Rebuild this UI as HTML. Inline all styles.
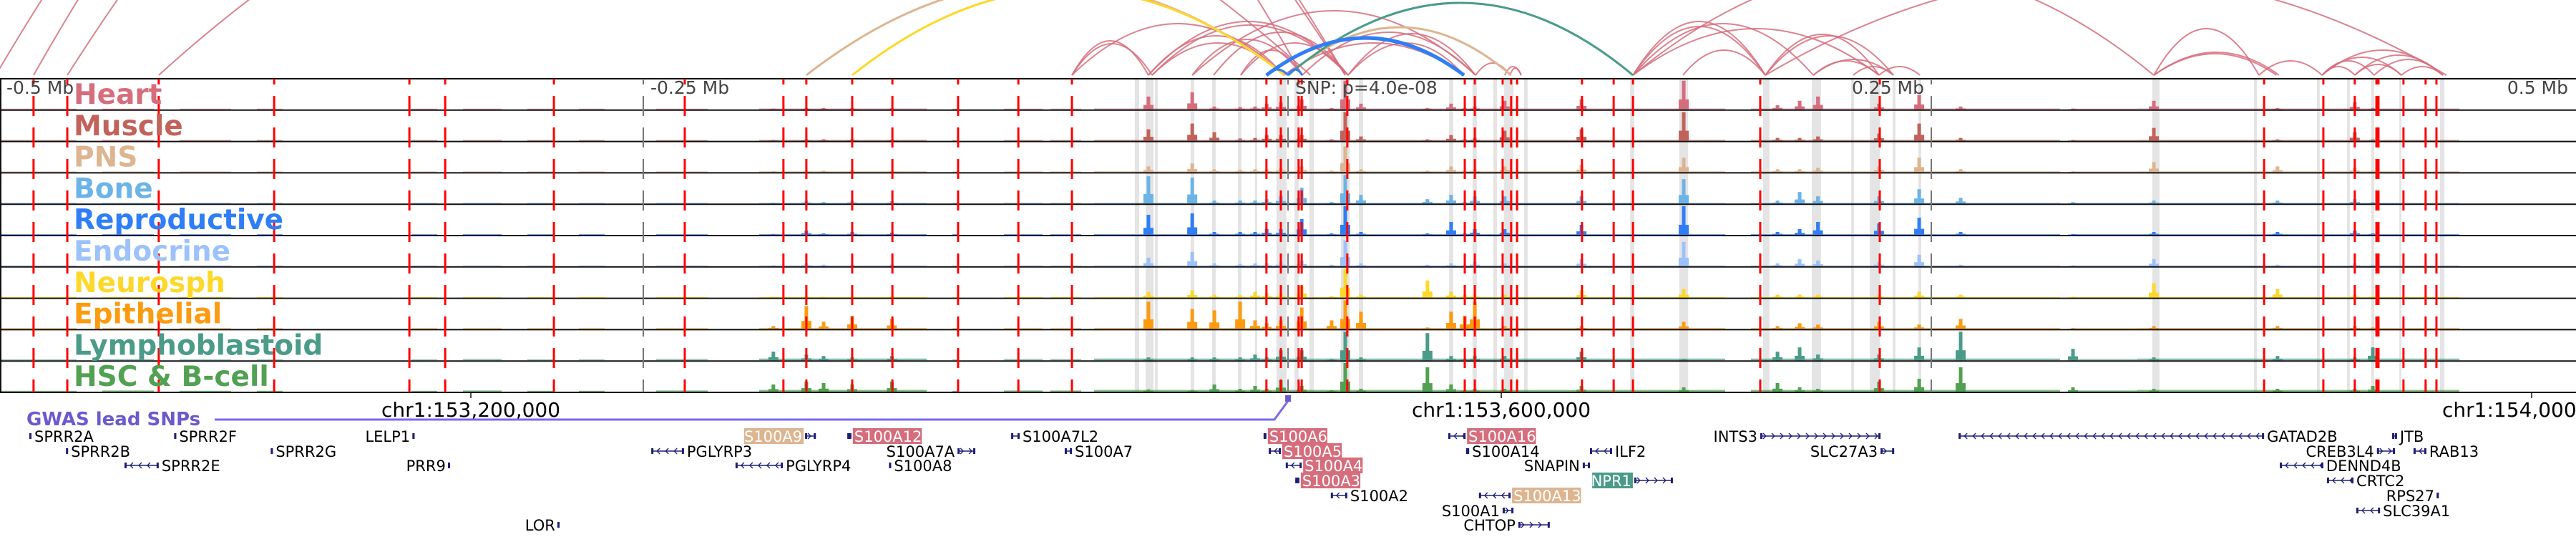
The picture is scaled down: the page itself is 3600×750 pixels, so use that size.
<!DOCTYPE html>
<html><head><meta charset="utf-8">
<style>
html,body{margin:0;padding:0;background:#fff;}
svg{display:block;}
text{font-family:"DejaVu Sans","Liberation Sans",sans-serif;}
</style></head>
<body>
<svg id="fig" width="3600" height="750" viewBox="0 0 3600 750" xmlns="http://www.w3.org/2000/svg">
<g id="arcs"></g>
<g id="bands"></g>
<g id="signals"></g>
<g id="vlines"></g>
<g id="labels"></g>
<g id="axis"></g>
<g id="genes"></g>
</svg>
<script>
// ---- data (kb relative to lead SNP) ----
const snpPos = 153516940;
const trackNames = ["Heart","Muscle","PNS","Bone","Reproductive","Endocrine","Neurosph","Epithelial","Lymphoblastoid","HSC & B-cell"];
const trackColors = ["#d66d7d","#c2625a","#ddb590","#6cb4e8","#2f7ef7","#9dc2fb","#fdd82a","#fd9b10","#4b9b89","#52a052"];
const trackBaseline = [1,1,1,0.6,0.6,0.6,0.6,1,2,2];
const peakPos = [-199.5,-186.7,-180,-168.9,-153.5,-53.9,-36.9,-28.3,-18.3,-12.5,-8,-2.5,5.6,17.2,22.5,28.6,54.4,63.6,68.9,72.8,84.4,114.2,153.9,190.3,198.9,206,229.7,245.3,261.4,305,336.4,384.4,414.4,421.4];
const heartVals  = [.03,.05,.05,.05,.04,.45,.6,.1,.08,.1,.2,.25,.35,.05,1,.2,.05,.2,.05,.1,.3,.35,1,.15,.3,.45,.2,.5,.1,.03,.3,.05,.25,.05];
const muscleVals = [.03,.05,.05,.05,.04,.4,.6,.3,.08,.1,.2,.2,.2,.05,1,.15,.05,.2,.05,.1,.35,.4,1,.1,.1,.15,.25,.6,.1,.03,.45,.05,.3,.05];
const pnsVals    = [.03,.05,.05,.05,.04,.2,.3,.1,.08,.1,.1,.15,.2,.05,.9,.1,.05,.2,.05,.1,.2,.25,.5,.1,.1,.15,.2,.5,.1,.03,.35,.2,.15,.05];
const boneVals   = [.03,.1,.05,.1,.08,.95,.9,.1,.1,.1,.15,.25,.55,.05,1,.3,.15,.3,.05,.25,.25,.25,.85,.1,.4,.25,.25,.5,.2,.05,.1,.1,.15,.05];
const reproVals  = [.03,.15,.05,.1,.08,.7,.75,.1,.1,.1,.2,.2,.55,.05,1,.1,.05,.45,.05,.2,.2,.35,1,.1,.2,.45,.4,.6,.1,.03,.1,.1,.15,.05];
const endoVals   = [.03,.1,.05,.05,.06,.3,.5,.1,.08,.1,.1,.15,.2,.05,.9,.1,.05,.1,.05,.15,.1,.25,.85,.1,.25,.2,.15,.4,.05,.03,.25,.05,.1,.05];
const neuroVals  = [.03,.05,.03,.03,.04,.2,.25,.1,.08,.2,.15,.15,.4,.05,1,.1,.6,.2,.1,.1,.1,.25,.3,.1,.1,.1,.1,.2,.1,.03,.5,.3,.1,.05];
const epiVals    = [.1,.8,.25,.45,.35,.95,.7,.65,.95,.3,.2,.3,.75,.3,1,.6,.05,.6,.45,.95,.1,.1,.25,.1,.2,.15,.25,.15,.35,.03,.1,.1,.1,.05];
const lymphoVals = [.3,.2,.15,.1,.15,.1,.1,.1,.1,.2,.1,.35,.35,.05,1,.1,.95,.15,.05,.15,.15,.3,.05,.3,.45,.2,.2,.45,1,.4,.1,.15,.1,.45];
const hscVals    = [.25,.35,.3,.25,.35,.08,.05,.25,.1,.2,.1,.4,.2,.05,1,.1,.85,.25,.05,.1,.1,.2,.15,.3,.15,.1,.35,.45,.85,.15,.1,.1,.1,.2];
const bgStart = [-500,-460,-430,-400,-340,-320,-295,-275,-245,-205,-130,-110,-92,-75,180,305,330];
const bgEnd   = [-470,-440,-410,-390,-330,-305,-285,-265,-225,-140,-128,-95,-80,170,300,330,455];
const bgLevel = [.015,.02,.015,.015,.015,.02,.015,.015,.02,.03,.015,.02,.02,.03,.03,.02,.03];
const redLines = [-486.7,-473.6,-438.1,-393.3,-340.8,-326.9,-284.7,-233.9,-195.6,-186.7,-168.9,-153.3,-127.8,-104.4,-83.6,-8.1,-2.5,4.4,5.6,23.3,68.9,72.8,83.6,86.9,89.2,114.4,126.7,134.2,183.6,230,379.2,402.2,414.4,422.8,423.6,433.3,441.9,446.1];
const grayLines = [-250,0.3,250];
const bandStart = [-59.2,-55,-51.4,-37.5,-29.2,-19.2,-12.5,-4.2,2.8,8.6,20.8,27.8,62.8,71.9,80,84.2,91.9,133.1,152.2,184.7,203.6,218.9,226.1,235,245,335.8,375.3,399.7,411.4,420.8,431.7,447.5];
const bandEnd   = [-57.5,-51.9,-50.3,-36.1,-27.8,-17.8,-11.7,-0.3,4.4,10.3,24.2,29.4,64.4,73.6,81.4,87.8,93.3,134.7,155.6,187.2,207.2,220,230,236.1,246.1,338.6,376.4,400.8,412.5,421.9,432.5,449.2];
const arcStart = [-501.4,-486.7,-473.6,-438.1,-83.6,-83.6,-83.6,-53.9,-52.5,-53.9,-52.5,-36.9,-36.9,-28.6,-18.1,-18.1,-1.4,5.8,23.6,23.6,73.1,86.4,84.4,134.2,134.2,134.2,153.6,134.2,185.6,185.6,204.2,204.2,219.7,229.7,185.6,134.2,336.4,336.4,336.4,377.2,401.7,401.7,414.4,421.9,401.7,432.5,414.4,401.7,-186.7,-168.9,0.3,0.3,-8.1,-8.1,0.3];
const arcEnd   = [22.5,5.8,22.5,9,-53.9,-52.5,-1.4,-1.4,-1.4,23.6,23.6,5.8,73.1,23.6,5.8,23.6,68.6,73.1,73.1,68.6,86.4,90.8,90.8,185.6,185.6,204.2,185.6,229.7,229.7,235.3,229.7,235.3,235.3,245.6,450,336.4,377.2,385,384,401.7,448.6,432.5,448.6,448.6,421.9,448.6,432.5,414.4,-0.8,-1.1,86.9,134.2,68.6,0.3,5.8];
const arcHeight= [800,780,700,365,48,44,72,55,45,75,70,50,90,60,35,45,45,60,58,45,17,10,12,75,68,72,35,65,57,55,20,22,12,12,140,150,65,32,30,20,35,25,28,22,20,12,15,12,130,120,67,101,52,8,8];
const arcTrack = [0,0,0,0,0,0,0,0,0,0,0,0,0,0,0,0,0,0,0,0,0,0,0,0,0,0,0,0,0,0,0,0,0,0,0,0,0,0,0,0,0,0,0,0,0,0,0,0,2,6,2,8,4,4,4];
const geneNames = ["SPRR2A","SPRR2F","LELP1","S100A9","S100A12","S100A7L2","S100A6","S100A16","INTS3","GATAD2B","JTB","SPRR2B","SPRR2G","PGLYRP3","S100A7A","S100A7","S100A5","S100A14","ILF2","SLC27A3","CREB3L4","RAB13","SPRR2E","PRR9","PGLYRP4","S100A8","S100A4","SNAPIN","DENND4B","S100A3","NPR1","CRTC2","S100A2","S100A13","RPS27","S100A1","SLC39A1","CHTOP","LOR"];
const geneRow = [0,0,0,0,0,0,0,0,0,0,0,1,1,1,1,1,1,1,1,1,1,1,2,2,2,2,2,2,2,3,3,3,4,4,4,5,5,6,6];
const geneStart = [-488.1,-431.9,-339.4,-187.2,-170.8,-107.2,-9.2,62.5,183.6,260.6,428.9,-473.9,-394.4,-246.9,-128,-86.4,-7.2,69.4,117.5,230.3,423,437.2,-451.4,-325.6,-214.2,-154.4,-0.6,114.7,385.3,3.1,134.7,403.6,16.9,74.4,446.4,83.6,415,89.7,-283.1];
const geneEnd   = [-487.5,-431.3,-338.8,-183,-169.2,-103.9,-8.1,69.2,230.3,379.2,430.8,-473.3,-393.8,-234.2,-121.1,-83.6,-2.5,70.6,126.1,235.6,430,442.2,-438.1,-325,-195.8,-153.8,5.6,117.5,402.2,4.7,149.7,413.9,23.3,86.7,447,87.8,424.2,101.9,-282.5];
const geneSide  = ["R","R","L","L","R","R","R","R","L","R","R","R","R","R","L","R","R","R","R","L","L","R","R","L","R","R","R","L","R","R","L","R","R","R","L","L","R","L","L"];
const geneStrand= [1,1,1,1,1,-1,1,-1,1,-1,1,1,1,-1,1,-1,-1,-1,-1,1,1,-1,-1,1,-1,1,-1,1,-1,1,1,-1,-1,-1,1,1,-1,1,1];
const geneHighlight = [-1,-1,-1,2,0,-1,0,0,-1,-1,-1,-1,-1,-1,-1,-1,0,-1,-1,-1,-1,-1,-1,-1,-1,-1,0,-1,-1,0,8,-1,-1,2,-1,-1,-1,-1,-1];
const chrTicks = [153200000,153600000,154000000];
const mbTickKb = [-500,-250,250,500];
const mbTickLabels = ["-0.5 Mb","-0.25 Mb","0.25 Mb","0.5 Mb"];

// ---- scales ----
const NS="http://www.w3.org/2000/svg";
const X = kb => 1799 + kb*3.6;
const TOP=110, TH=43.8, NT=10, SIGMAX=40, ARCBASE=105;
const trackTop = i => TOP + i*TH;
const trackVals=[heartVals,muscleVals,pnsVals,boneVals,reproVals,endoVals,neuroVals,epiVals,lymphoVals,hscVals];
function mk(tag, attrs, parent){const e=document.createElementNS(NS,tag);for(const k in attrs)e.setAttribute(k,attrs[k]);parent.appendChild(e);return e;}
const G = id => document.getElementById(id);

// arcs
for(let i=0;i<arcStart.length;i++){
  const x1=X(arcStart[i]), x2=X(arcEnd[i]), h=arcHeight[i], c=trackColors[arcTrack[i]];
  const w = arcTrack[i]===4 && h>20 ? 5 : (arcTrack[i]===0 ? 2 : 3);
  const p=mk('path',{d:`M${x1},${ARCBASE} Q${(x1+x2)/2},${ARCBASE-2*h} ${x2},${ARCBASE}`,fill:'none',stroke:c,'stroke-width':w,'stroke-opacity':arcTrack[i]===0?0.85:1},G('arcs'));
  
  
}
// bands
for(let i=0;i<bandStart.length;i++){
  const r=mk('rect',{x:X(bandStart[i]),y:TOP,width:Math.max(2,X(bandEnd[i])-X(bandStart[i])),height:NT*TH,fill:'#e4e4e4'},G('bands'));
  
  
}
// signals
for(let t=0;t<NT;t++){
  const g=mk('g',{},G('signals'));
  
  
  const bot=trackTop(t)+TH-1, col=trackColors[t];
  for(let i=0;i<bgStart.length;i++){
    const hh=Math.max(1,bgLevel[i]*trackBaseline[t]*SIGMAX);
    const r=mk('rect',{x:X(bgStart[i]),y:bot-hh,width:X(bgEnd[i])-X(bgStart[i]),height:hh,fill:col,opacity:0.7},g);
    
    
  }
  const vals=trackVals[t];
  for(let i=0;i<peakPos.length;i++){
    const x=X(peakPos[i]), h=vals[i]*SIGMAX;
    const s=mk('rect',{x:x-7,y:bot-h*0.35,width:14,height:h*0.35,fill:col},g);
    
    
    const r=mk('rect',{x:x-2.5,y:bot-h,width:5,height:h,fill:col},g);
    
    
  }
}
// track frames
for(let k=0;k<=NT;k++){
  const l=mk('line',{x1:0,x2:3600,y1:trackTop(k),y2:trackTop(k),stroke:'#111','stroke-width':2},G('vlines'));
  
  
}
mk('line',{x1:1,x2:1,y1:TOP,y2:TOP+NT*TH,stroke:'#111','stroke-width':2},G('vlines'));
// dashed markers
function dashed(kb,color,w,name){
  const l=mk('line',{x1:X(kb),x2:X(kb),y1:TOP,y2:TOP+NT*TH,stroke:color,'stroke-width':w,'stroke-dasharray':'28 16','stroke-dashoffset':20},G('vlines'));
  
  
}
grayLines.forEach(k=>dashed(k,'#777',2,'position-marker-line'));
redLines.forEach(k=>dashed(k,'#ff0000',3,'variant-marker-line'));
// track labels
for(let t=0;t<NT;t++){
  const tx=mk('text',{x:103,y:trackTop(t)+35,fill:trackColors[t],'font-size':39,'font-weight':'bold'},G('labels'));
  tx.textContent=trackNames[t];
  
  
}
// Mb labels
for(let i=0;i<mbTickKb.length;i++){
  const kb=mbTickKb[i]; const right = kb>0;
  const tx=mk('text',{x:right?X(kb)-10:X(kb)+10,y:131,fill:'#444','font-size':25,'text-anchor':right?'end':'start'},G('axis'));
  tx.textContent=mbTickLabels[i];
  
  
}
{const tx=mk('text',{x:1810,y:131,fill:'#444','font-size':25},G('axis'));tx.textContent='SNP: p=4.0e-08';

}
// chr ticks
chrTicks.forEach(p=>{
  const kb=(p-snpPos)/1000, x=X(kb);
  const l=mk('line',{x1:x,x2:x,y1:TOP+NT*TH,y2:TOP+NT*TH+8,stroke:'#111','stroke-width':1.5},G('axis'));
  
  
  const tx=mk('text',{x:x,y:582,'font-size':28,'text-anchor':'middle',fill:'#000'},G('axis'));
  tx.textContent='chr1:'+p.toLocaleString('en-US');
  
  
});
// GWAS
{const g=G('genes');
const tx=mk('text',{x:37,y:594,fill:'#6a5acd','font-size':26,'font-weight':'bold'},g);tx.textContent='GWAS lead SNPs';


const pl=mk('polyline',{points:`300,586 ${X(-5)},586 ${X(0.3)},560`,fill:'none',stroke:'#7b68ee','stroke-width':3},g);


const r=mk('rect',{x:X(0.3)-4,y:552,width:8,height:9,fill:'#6a5acd'},g);

}
// genes
const rowY=[609,630,650,671,692,713,733];
const navy='#1f1f78';
for(let i=0;i<geneNames.length;i++){
  const g=mk('g',{},G('genes'));
  
  
  const cy=rowY[geneRow[i]], x1=X(geneStart[i]), x2=Math.max(X(geneEnd[i]),X(geneStart[i])+2);
  mk('line',{x1:x1,x2:x2,y1:cy,y2:cy,stroke:navy,'stroke-width':1.5},g);
  mk('rect',{x:x1,y:cy-4,width:Math.min(3,x2-x1),height:8,fill:navy},g);
  mk('rect',{x:x2-3,y:cy-4,width:3,height:8,fill:navy},g);
  for(let ax=x1+8; ax<x2-4; ax+=12){
    const d=geneStrand[i]*4;
    mk('polyline',{points:`${ax-d},${cy-4} ${ax},${cy} ${ax-d},${cy+4}`,fill:'none',stroke:navy,'stroke-width':1.3},g);
  }
  const right=geneSide[i]==='R';
  const tx=mk('text',{x:right?x2+4:x1-4,y:cy+8,'font-size':21,'text-anchor':right?'start':'end',fill:geneHighlight[i]>=0?'#fff':'#000'},g);
  tx.textContent=geneNames[i];
  if(geneHighlight[i]>=0){
    const w=geneNames[i].length*13.2+4;
    const bx=right?x2+2:x1-2-w;
    const b=mk('rect',{x:bx,y:cy-11,width:w,height:22,fill:trackColors[geneHighlight[i]]},g);
    g.insertBefore(b,tx);
  }
}
</script>
</body></html>
